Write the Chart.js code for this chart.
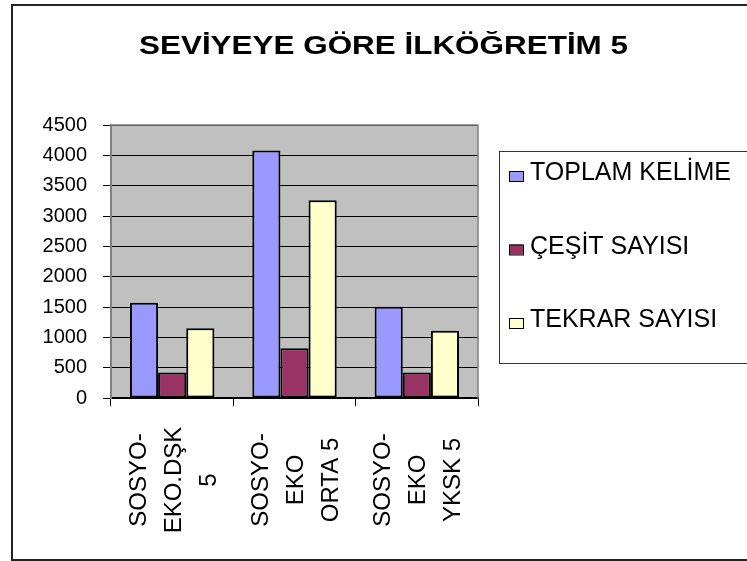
<!DOCTYPE html>
<html>
<head>
<meta charset="utf-8">
<script src="https://cdn.jsdelivr.net/npm/chart.js@4.4.1/dist/chart.umd.min.js"></script>
<style>
html, body { margin: 0; padding: 0; background: #fff; overflow: hidden; }
#wrap { width: 747px; height: 561px; position: relative; }
</style>
</head>
<body>
<div id="wrap"><canvas id="chart"></canvas></div>
<script>
const chartTitle = "SEVİYEYE GÖRE İLKÖĞRETİM 5";
const categories = [["SOSYO-", "EKO.DŞK", "5"], ["SOSYO-", "EKO", "ORTA 5"], ["SOSYO-", "EKO", "YKSK 5"]];
const seriesNames = ["TOPLAM KELİME", "ÇEŞİT SAYISI", "TEKRAR SAYISI"];
const toplamKelime = [1570, 4080, 1505];
const cesitSayisi = [420, 820, 420];
const tekrarSayisi = [1150, 3260, 1110];
const yTicks = [0, 500, 1000, 1500, 2000, 2500, 3000, 3500, 4000, 4500];
const colors = ["#9999ff", "#993366", "#ffffcc"];

const FONT = "'Liberation Sans', Arial, sans-serif";

// excel style pieces: grey plot area, frame, title, rotated labels, boxed legend
const excelLook = {
    id: "excelLook",
    beforeDraw(chart) {
        const { ctx, chartArea: a } = chart;
        ctx.save();
        ctx.fillStyle = "#c0c0c0";
        ctx.fillRect(a.left, a.top, a.right - a.left, a.bottom - a.top);
        ctx.restore();
    },
    afterDraw(chart) {
        const { ctx, chartArea: a } = chart;
        ctx.save();

        // plot area border (top/right)
        ctx.strokeStyle = "#808080";
        ctx.lineWidth = 1.5;
        ctx.beginPath();
        ctx.moveTo(a.left, a.top);
        ctx.lineTo(a.right, a.top);
        ctx.lineTo(a.right, a.bottom);
        ctx.stroke();

        // outer frame
        ctx.strokeStyle = "#222";
        ctx.lineWidth = 2;
        ctx.strokeRect(12, 5, 760, 555);

        // title, stretched like the original
        ctx.fillStyle = "#000";
        ctx.font = "bold 25px " + FONT;
        ctx.textBaseline = "alphabetic";
        ctx.textAlign = "left";
        const tw = ctx.measureText(chartTitle).width;
        ctx.save();
        ctx.translate(139, 54);
        ctx.scale(489 / tw, 1);
        ctx.fillText(chartTitle, 0, 0);
        ctx.restore();

        // category labels, rotated and centred
        const xs = chart.scales.x;
        ctx.font = "24px " + FONT;
        ctx.textAlign = "center";
        categories.forEach((lines, i) => {
            const cx = xs.getPixelForValue(i);
            lines.forEach((t, j) => {
                ctx.save();
                ctx.translate(cx + (j - (lines.length - 1) / 2) * 35 + 8.5, 480);
                ctx.rotate(-Math.PI / 2);
                ctx.fillText(t, 0, 0);
                ctx.restore();
            });
        });

        // legend box
        ctx.strokeStyle = "#333";
        ctx.lineWidth = 1;
        ctx.strokeRect(499.5, 151.5, 300, 212);
        ctx.font = "25px " + FONT;
        ctx.textAlign = "left";
        chart.data.datasets.forEach((ds, i) => {
            const base = 180 + i * 73.5;
            ctx.fillStyle = ds.backgroundColor;
            ctx.fillRect(509, base - 9, 14, 10);
            ctx.strokeStyle = "#000";
            ctx.strokeRect(509.5, base - 8.5, 14, 10);
            ctx.fillStyle = "#000";
            ctx.fillText(ds.label, 530, base);
        });

        ctx.restore();
    }
};

const ctx = document.getElementById("chart").getContext("2d");
new Chart(ctx, {
    type: "bar",
    data: {
        labels: categories,
        datasets: [
            { label: seriesNames[0], data: toplamKelime, backgroundColor: colors[0] },
            { label: seriesNames[1], data: cesitSayisi, backgroundColor: colors[1] },
            { label: seriesNames[2], data: tekrarSayisi, backgroundColor: colors[2] }
        ].map(d => Object.assign(d, {
            borderColor: "#000",
            borderWidth: 2,
            borderSkipped: false,
            barPercentage: 1,
            categoryPercentage: 0.69
        }))
    },
    options: {
        responsive: true,
        maintainAspectRatio: false,
        animation: false,
        layout: { padding: { left: 30, right: 269, top: 125, bottom: 0 } },
        plugins: {
            legend: { display: false },
            title: { display: false },
            tooltip: { enabled: false }
        },
        scales: {
            x: {
                grid: { offset: true, drawOnChartArea: false, color: "#000", tickLength: 8 },
                border: { color: "#000", width: 1.5 },
                ticks: { display: false },
                afterFit: s => { s.height = 163; }
            },
            y: {
                min: 0,
                max: 4500,
                afterBuildTicks: s => { s.ticks = yTicks.map(v => ({ value: v })); },
                grid: { color: "#000", tickLength: 8 },
                border: { color: "#808080", width: 2 },
                ticks: {
                    font: { family: FONT, size: 20 },
                    color: "#000",
                    padding: 16,
                    callback: v => String(v)
                },
                afterFit: s => { s.width = 81; }
            }
        }
    },
    plugins: [excelLook]
});
</script>
</body>
</html>
